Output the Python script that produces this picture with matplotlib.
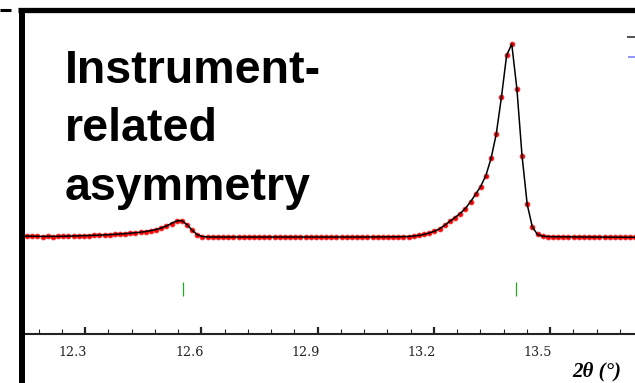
import numpy as np
import matplotlib
matplotlib.use("Agg")
import matplotlib.pyplot as plt
from matplotlib.lines import Line2D
from matplotlib.ticker import MultipleLocator
from matplotlib.transforms import ScaledTranslation

# Step-scan definition of the powder pattern
two_theta_start = 12.1375
two_theta_step = 0.0133

# Observed intensities (counts)
y_obs = [
    1960, 1962, 1958, 1954, 1950, 1952, 1950, 1951, 1954, 1958,
    1960, 1964, 1968, 1970, 1974, 1978, 1984, 1990, 1994, 2000,
    2010, 2016, 2024, 2034, 2050, 2070, 2090, 2120, 2160, 2210,
    2260, 2270, 2190, 2080, 1990, 1950,
    1942, 1940, 1938, 1941, 1943, 1940, 1939, 1937, 1940, 1942,
    1941, 1938, 1940, 1939, 1941, 1943, 1940, 1938, 1939, 1940,
    1942, 1941, 1939, 1940, 1938, 1940, 1941, 1942, 1940, 1939,
    1941, 1940, 1942, 1943, 1941, 1940, 1942, 1944, 1946,
    1950, 1960, 1974, 1994, 2020, 2054, 2100, 2180, 2260, 2330,
    2410, 2506, 2640, 2794, 2950, 3170, 3520, 4000, 4740, 5580,
    5794, 4906, 3566, 2594, 2146, 1994, 1960, 1950,
    1946, 1945, 1944, 1944, 1942, 1942, 1941, 1940, 1940, 1938,
    1938, 1937, 1936, 1936, 1935, 1934, 1934,
]

# Calculated profile (counts)
y_calc = [
    1958, 1958, 1956, 1954, 1952, 1952, 1952, 1953, 1955, 1958,
    1961, 1964, 1967, 1970, 1974, 1978, 1983, 1988, 1994, 2000,
    2008, 2016, 2025, 2036, 2050, 2068, 2090, 2120, 2160, 2212,
    2262, 2268, 2186, 2076, 1986, 1948,
    1941, 1940, 1940, 1940, 1940, 1940, 1940, 1940, 1940, 1940,
    1940, 1940, 1940, 1940, 1940, 1940, 1940, 1940, 1940, 1940,
    1940, 1940, 1940, 1940, 1940, 1940, 1940, 1940, 1940, 1940,
    1940, 1941, 1941, 1942, 1942, 1943, 1944, 1945, 1947,
    1951, 1959, 1972, 1992, 2020, 2056, 2104, 2176, 2256, 2330,
    2412, 2510, 2644, 2796, 2956, 3176, 3516, 4004, 4736, 5570,
    5800, 4900, 3560, 2590, 2140, 1990, 1958, 1949,
    1946, 1945, 1944, 1943, 1942, 1941, 1940, 1940, 1939, 1938,
    1938, 1937, 1936, 1936, 1935, 1934, 1934,
]

bragg_positions = [12.553, 13.413]
bragg_row = 900

x_ticks = [12.3, 12.6, 12.9, 13.2, 13.5]
x_tick_labels = ["12.3", "12.6", "12.9", "13.2", "13.5"]
x_label = "2\u03b8 (\u00b0)"
annotation = "Instrument-\nrelated\nasymmetry"

two_theta = two_theta_start + two_theta_step * np.arange(len(y_obs))

W, H = 635, 383
fig = plt.figure(figsize=(W / 100, H / 100), dpi=100)
ax = fig.add_axes([23 / W, (H - 334) / H, (W - 23) / W, (334 - 11) / H])
ax.set_xlim(12.14, 13.719)
ax.set_ylim(0, 6460)

ax.plot(two_theta, y_obs, ls="none", marker="o", ms=3.5, mfc="red",
        mec="#f03030", mew=0.6, zorder=2)
ax.plot(two_theta, y_calc, color="black", lw=1.1, zorder=3)
ax.plot(bragg_positions, [bragg_row] * len(bragg_positions), ls="none",
        marker="|", ms=9.5, mew=0.9, color="#22aa22", zorder=2)

for side in ("top", "right", "left"):
    ax.spines[side].set_visible(False)
ax.spines["bottom"].set_linewidth(1.5)
ax.spines["bottom"].set_color("#222222")
ax.set_yticks([])

ax.set_xticks(x_ticks, x_tick_labels)
ax.xaxis.set_minor_locator(MultipleLocator(0.06))
ax.tick_params(axis="x", which="major", direction="in", length=5, width=1.6,
               pad=9, labelsize=9.2, color="#222222")
ax.tick_params(axis="x", which="minor", direction="in", length=3.5, width=0.8,
               color="#222222")
shift = ScaledTranslation(-12 / 100, 0, fig.dpi_scale_trans)
for lab in ax.get_xticklabels():
    lab.set_fontfamily("DejaVu Serif")
    lab.set_color("#222222")
    lab.set_transform(lab.get_transform() + shift)

fig.text(621 / W, (H - 371) / H, x_label, ha="right", va="center",
         family="Liberation Serif", style="italic", weight="bold", size=15)

fig.text(65 / W, (H - 49) / H, annotation, ha="left", va="top",
         family="Liberation Sans", weight="bold", size=33.5, linespacing=1.42)

# Legend line keys running off the right edge
fig.add_artist(Line2D([627 / W, 1.0], [(H - 36.7) / H] * 2, color="#333333",
                      lw=1.2, transform=fig.transFigure, solid_capstyle="butt"))
fig.add_artist(Line2D([628 / W, 1.0], [(H - 56.7) / H] * 2, color="#8080ff",
                      lw=1.2, transform=fig.transFigure, solid_capstyle="butt"))

# Outer frame
fig.add_artist(Line2D([18 / W, 1.0], [(H - 10) / H] * 2, color="black",
                      lw=3.8, transform=fig.transFigure, solid_capstyle="butt"))
fig.add_artist(Line2D([21.5 / W] * 2, [(H - 7.5) / H, 0.0], color="black",
                      lw=4.3, transform=fig.transFigure, solid_capstyle="butt"))
fig.add_artist(Line2D([0.0, 11 / W], [(H - 9.6) / H] * 2, color="black",
                      lw=2.2, transform=fig.transFigure, solid_capstyle="butt"))

fig.savefig("out.png", dpi=100)
